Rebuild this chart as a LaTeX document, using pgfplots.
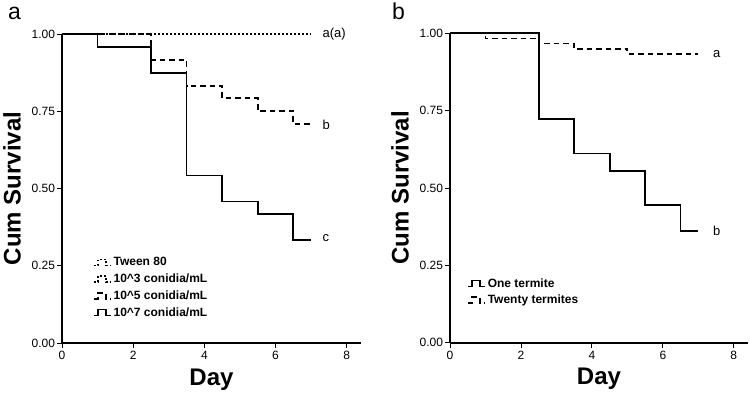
\documentclass[border=0pt]{standalone}
\usepackage{fontspec}
\setmainfont{Liberation Sans}
\usepackage{pgfplots}
\pgfplotsset{compat=1.18}
\pgfplotsset{
  km/.style={
    scale only axis, clip=false,
    axis x line=bottom, axis y line=left,
    axis line style={-, line width=1.6pt, black},
    xmin=0, xmax=8.4, ymin=0, ymax=1,
    xtick={0,2,4,6,8}, ytick={0,0.25,0.5,0.75,1},
    tick align=outside, major tick length=5pt,
    tick style={black, line width=0.9pt},
    /pgf/number format/assume math mode=true,
    yticklabel style={/pgf/number format/fixed, /pgf/number format/precision=2, /pgf/number format/fixed zerofill, font=\fontsize{12}{14}\selectfont, xshift=1.5pt},
    xticklabel style={font=\fontsize{12}{14}\selectfont},
    xlabel={Day}, ylabel={Cum Survival},
    xlabel style={font=\fontsize{24}{28}\selectfont\bfseries, at={(axis description cs:0.5,0)}, anchor=north, yshift=-22pt},
    ylabel style={font=\fontsize{24}{28}\selectfont\bfseries, at={(axis description cs:0,0.5)}, anchor=center, yshift=50pt},
    legend style={draw=none, fill=none, font=\fontsize{12}{14}\selectfont\bfseries, row sep=2.6pt, inner sep=0pt, legend cell align=left},
    legend image code/.code={\draw[#1, line width=1.6pt] (0pt,-3pt) -- (4pt,-3pt) -- (4pt,3pt) -- (12pt,3pt) -- (12pt,-3pt) -- (17pt,-3pt);},
  },
  solidkm/.style={black, line width=1.8pt, const plot, mark=none},
  dashkm/.style={black, line width=1.8pt, const plot, mark=none, dash pattern=on 5.5pt off 4pt},
  dotkm/.style={black, line width=1.3pt, const plot, mark=none, dash pattern=on 1.8pt off 2.2pt},
}
\begin{document}
\begin{tikzpicture}[x=1pt,y=1pt]
\useasboundingbox (0,0) rectangle (750,400);
\node[anchor=base west, font=\fontsize{23}{28}\selectfont, inner sep=0pt] at (8,380) {a};
\node[anchor=base west, font=\fontsize{23}{28}\selectfont, inner sep=0pt] at (392,380) {b};
\begin{axis}[km, at={(62pt,57pt)}, anchor=south west, width=299pt, height=309pt,
  legend style={at={(axis description cs:0.103,0.284)}, anchor=north west}]
\addplot[dotkm] coordinates {(0,1) (7,1)};
\addlegendentry{Tween 80}
\addplot[dotkm] coordinates {(0,1) (7,1)};
\addlegendentry{10\textasciicircum3 conidia/mL}
\addplot[dashkm] coordinates {(0,1) (2.5,0.917) (3.5,0.833) (4.5,0.792) (5.5,0.75) (6.5,0.708) (7,0.708)};
\addlegendentry{10\textasciicircum5 conidia/mL}
\addplot[solidkm] coordinates {(0,1) (1,0.958) (2.5,0.875) (3.5,0.542) (4.5,0.458) (5.5,0.417) (6.5,0.333) (7,0.333)};
\addlegendentry{10\textasciicircum7 conidia/mL}
\node[anchor=west, font=\fontsize{13}{15}\selectfont] at (axis cs:7.22,1) {a(a)};
\node[anchor=west, font=\fontsize{13}{15}\selectfont] at (axis cs:7.22,0.705) {b};
\node[anchor=west, font=\fontsize{13}{15}\selectfont] at (axis cs:7.22,0.338) {c};
\end{axis}
\begin{axis}[km, at={(450pt,57.3pt)}, anchor=south west, width=298pt, height=309.5pt,
  legend style={at={(axis description cs:0.057,0.215)}, anchor=north west}]
\addplot[solidkm] coordinates {(0,1) (2.5,0.722) (3.5,0.611) (4.5,0.556) (5.5,0.444) (6.5,0.361) (7,0.361)};
\addlegendentry{One termite}
\addplot[dashkm] coordinates {(0,1) (1,0.983) (2.5,0.967) (3.5,0.95) (5,0.933) (7,0.933)};
\addlegendentry{Twenty termites}
\node[anchor=west, font=\fontsize{13}{15}\selectfont] at (axis cs:7.32,0.933) {a};
\node[anchor=west, font=\fontsize{13}{15}\selectfont] at (axis cs:7.32,0.36) {b};
\end{axis}
\end{tikzpicture}
\end{document}
